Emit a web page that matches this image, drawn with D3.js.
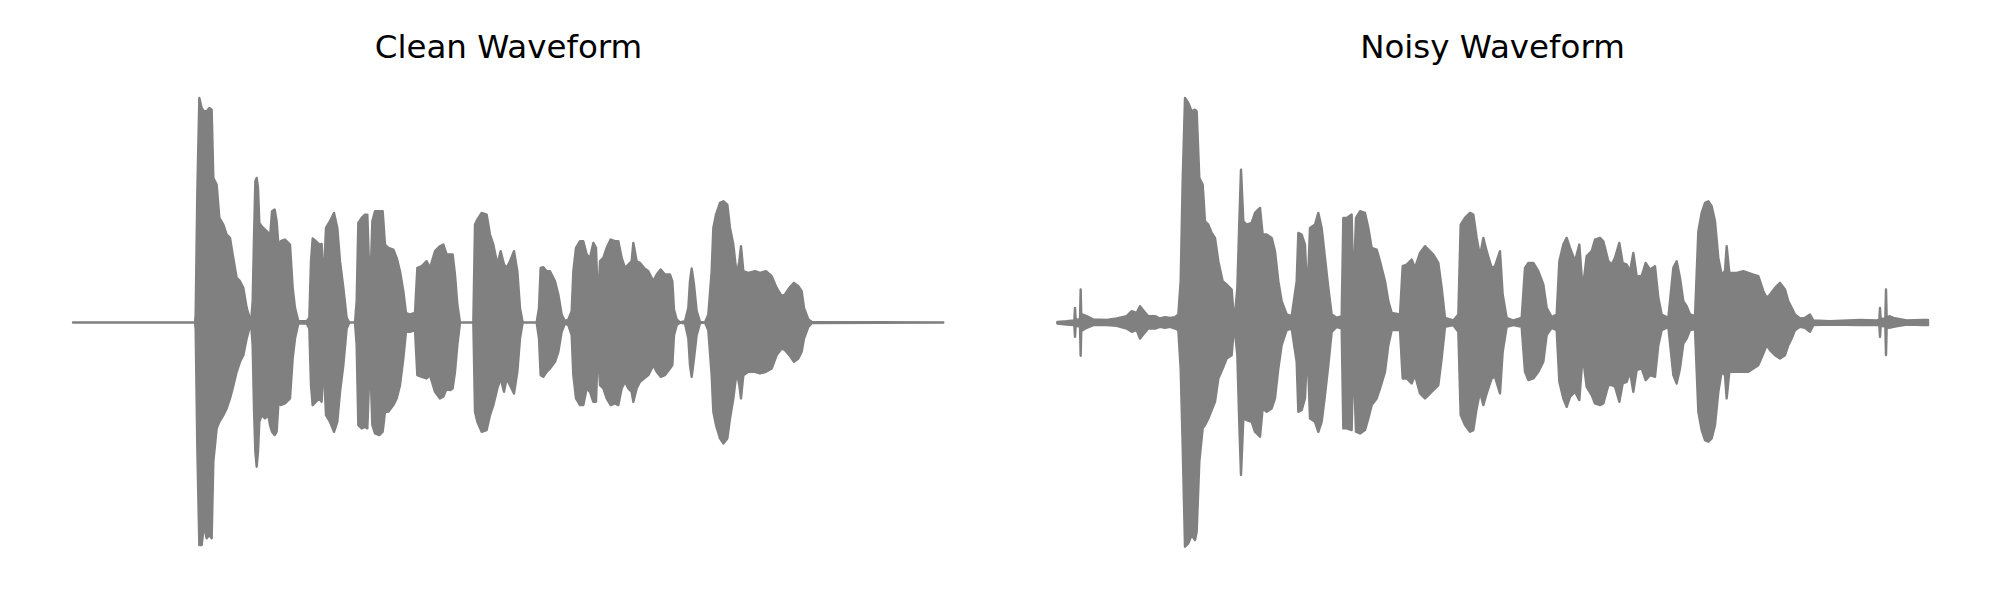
<!DOCTYPE html>
<html>
<head>
<meta charset="utf-8">
<script src="https://cdn.jsdelivr.net/npm/d3@7"></script>
<style>
  html, body { margin: 0; padding: 0; background: #fff; }
  svg { display: block; }
</style>
</head>
<body>
<svg id="chart" width="2000" height="600"></svg>
<script>
// Panel titles
const titles = ["Clean Waveform", "Noisy Waveform"];

// Envelope of each waveform: [frame, upper amplitude, lower amplitude]
// (frames of ~1.33 ms, amplitude in sample units, full scale ≈ ±680)
const cleanEnvelope = [
  [0,0,0],[366,0,0],[368,24,-18],[373,394,-378],[379,674,-668],[386,644,-668],[393,634,-608],
  [401,634,-648],[409,644,-638],[416,639,-648],[421,434,-418],[431,414,-318],[439,314,-298],
  [451,294,-278],[461,264,-258],[471,254,-228],[479,204,-198],[491,134,-148],[501,124,-118],
  [511,104,-98],[521,44,-48],[534,0,0],[539,64,-68],[543,254,-258],[547,424,-388],[551,434,-433],
  [555,404,-388],[559,299,-298],[566,289,-278],[576,279,-288],[586,269,-278],[591,254,-308],
  [597,334,-328],[605,339,-338],[611,304,-328],[619,194,-198],[623,244,-248],[636,249,-243],
  [651,234,-228],[659,104,-108],[666,44,-48],[676,4,-3],[701,4,-3],[709,14,-18],[714,184,-188],
  [719,252,-248],[729,244,-238],[739,234,-228],[746,236,-238],[751,104,-108],[759,284,-278],
  [771,304,-298],[783,329,-328],[793,284,-298],[801,184,-208],[811,104,-128],[821,14,-18],
  [829,0,0],[846,0,0],[851,64,-68],[856,299,-308],[866,314,-318],[876,324,-313],[883,324,-318],
  [891,84,-98],[898,304,-308],[906,334,-333],[919,334,-338],[929,334,-328],[936,234,-268],
  [946,224,-268],[961,219,-248],[971,194,-228],[981,154,-188],[991,94,-108],[999,29,-28],
  [1011,24,-28],[1026,29,-23],[1033,164,-158],[1046,169,-163],[1061,184,-168],[1071,164,-158],
  [1086,214,-208],[1101,229,-228],[1111,234,-223],[1121,204,-198],[1131,204,-203],[1139,204,-198],
  [1146,144,-148],[1153,54,-68],[1161,0,0],[1201,0,0],[1206,294,-268],[1213,309,-298],
  [1226,329,-328],[1241,324,-323],[1251,264,-278],[1261,234,-248],[1273,174,-198],[1283,214,-168],
  [1293,174,-208],[1301,164,-168],[1311,184,-188],[1323,214,-213],[1333,154,-148],[1341,44,-48],
  [1349,0,0],[1391,0,0],[1398,44,-48],[1403,164,-158],[1411,166,-163],[1421,154,-148],
  [1431,154,-138],[1446,124,-118],[1456,84,-88],[1466,24,-28],[1476,4,-3],[1486,9,-8],
  [1496,34,-38],[1501,154,-158],[1509,224,-228],[1521,244,-248],[1531,244,-248],[1541,204,-198],
  [1551,194,-208],[1561,239,-238],[1569,224,-238],[1575,54,-68],[1581,184,-188],[1591,194,-198],
  [1601,224,-228],[1613,249,-248],[1626,244,-243],[1636,244,-248],[1646,194,-198],[1656,164,-178],
  [1666,174,-198],[1676,184,-208],[1681,239,-238],[1691,184,-198],[1701,179,-178],[1713,164,-168],
  [1726,154,-158],[1741,124,-128],[1751,144,-148],[1763,159,-163],[1776,144,-158],[1791,144,-138],
  [1798,124,-128],[1803,39,-38],[1811,9,-8],[1821,0,0],[1836,4,-3],[1846,44,-48],[1851,124,-128],
  [1856,162,-163],[1863,114,-108],[1871,34,-38],[1881,2,-2],[1896,0,0],[1906,24,-23],
  [1916,154,-158],[1921,284,-268],[1929,324,-308],[1941,359,-348],[1951,364,-363],[1963,354,-348],
  [1971,284,-288],[1981,234,-228],[1991,144,-148],[1999,184,-188],[2004,229,-228],[2011,154,-158],
  [2026,149,-148],[2046,154,-148],[2061,149,-153],[2079,154,-148],[2096,139,-138],[2111,104,-98],
  [2126,79,-78],[2136,84,-83],[2149,104,-98],[2163,119,-118],[2176,109,-108],[2186,94,-88],
  [2193,44,-48],[2206,9,-13],[2216,2,-2],[2611,0,0]
];

const noisyEnvelope = [
  [1,2,-3],[29,4,-6],[49,6,-8],[52,6,-8],[54,44,-43],[56,8,-10],[69,10,-12],[71,99,-100],
  [73,14,-16],[77,24,-23],[89,19,-16],[109,9,-8],[149,8,-8],[179,12,-10],[209,19,-18],
  [224,34,-28],[239,29,-23],[249,49,-48],[261,34,-33],[274,19,-18],[294,19,-18],[309,12,-13],
  [324,16,-16],[339,14,-13],[354,16,-18],[364,24,-23],[371,124,-138],[377,424,-368],
  [384,674,-673],[394,659,-663],[404,634,-638],[414,639,-653],[419,634,-628],[427,434,-418],
  [437,414,-318],[444,304,-308],[454,294,-288],[464,269,-263],[474,254,-238],[484,184,-168],
  [497,124,-138],[509,114,-108],[524,99,-98],[529,34,-38],[534,24,-28],[541,104,-98],
  [547,304,-308],[552,459,-458],[559,304,-288],[569,294,-293],[584,299,-298],[594,329,-328],
  [609,344,-343],[617,264,-258],[629,264,-268],[644,254,-258],[654,214,-228],[664,124,-138],
  [674,64,-68],[689,24,-23],[704,19,-18],[719,124,-118],[724,269,-268],[734,264,-263],
  [744,234,-228],[751,74,-68],[759,284,-288],[774,294,-298],[784,329,-328],[794,284,-298],
  [804,194,-218],[814,104,-128],[824,24,-28],[839,14,-13],[854,19,-18],[859,314,-318],
  [869,314,-318],[884,324,-323],[889,84,-88],[897,314,-328],[909,334,-333],[924,329,-323],
  [934,284,-288],[944,224,-248],[959,219,-228],[969,184,-198],[984,124,-148],[994,64,-68],
  [1004,29,-23],[1029,24,-23],[1037,169,-168],[1049,174,-168],[1064,189,-183],[1074,164,-158],
  [1089,209,-213],[1104,229,-228],[1114,219,-218],[1129,204,-203],[1144,179,-188],[1154,104,-108],
  [1164,14,-13],[1189,6,-8],[1204,24,-28],[1211,294,-278],[1224,314,-308],[1239,329,-328],
  [1249,324,-323],[1259,254,-258],[1269,199,-208],[1279,254,-248],[1289,214,-213],[1304,164,-168],
  [1314,169,-163],[1329,214,-213],[1337,84,-88],[1349,14,-13],[1369,6,-8],[1394,14,-13],
  [1404,164,-148],[1414,179,-173],[1429,179,-168],[1444,154,-148],[1459,114,-118],[1469,44,-38],
  [1484,16,-16],[1499,24,-23],[1507,184,-178],[1519,234,-228],[1529,254,-253],[1539,224,-223],
  [1554,184,-208],[1567,234,-233],[1577,99,-98],[1589,199,-193],[1604,214,-218],[1614,249,-243],
  [1629,254,-248],[1639,244,-243],[1654,184,-188],[1664,174,-188],[1674,194,-193],[1687,239,-238],
  [1697,179,-183],[1709,174,-178],[1719,154,-148],[1729,209,-208],[1739,139,-143],[1754,139,-138],
  [1766,179,-173],[1779,159,-158],[1794,169,-163],[1804,74,-68],[1814,24,-23],[1834,14,-13],
  [1849,164,-158],[1859,184,-183],[1869,134,-138],[1879,64,-63],[1889,49,-48],[1899,24,-23],
  [1914,19,-20],[1924,274,-268],[1934,329,-323],[1944,359,-353],[1954,364,-358],[1964,349,-348],
  [1974,304,-308],[1984,194,-208],[1994,144,-148],[2004,154,-158],[2009,229,-228],[2017,149,-148],
  [2039,149,-148],[2059,154,-148],[2074,149,-148],[2089,144,-138],[2104,139,-128],[2119,94,-93],
  [2129,74,-68],[2139,84,-83],[2154,104,-98],[2169,119,-108],[2184,99,-98],[2194,64,-68],
  [2204,44,-48],[2214,24,-23],[2229,12,-13],[2244,14,-16],[2259,24,-28],[2269,6,-8],[2319,4,-6],
  [2409,8,-8],[2459,6,-8],[2467,8,-8],[2469,44,-43],[2471,10,-10],[2485,12,-12],[2487,99,-98],
  [2489,14,-14],[2497,19,-16],[2509,14,-13],[2549,6,-6],[2599,8,-8],[2613,8,-8]
];

const frameDomain = [0, 2613];
const ampDomain = [-680, 680];

const svg = d3.select("#chart");
const panels = [
  { title: titles[0], data: cleanEnvelope, left: 73 },
  { title: titles[1], data: noisyEnvelope, left: 1057 }
];
const panelWidth = 871;

const y = d3.scaleLinear().domain(ampDomain).range([549, 96]);

panels.forEach(p => {
  const x = d3.scaleLinear().domain(frameDomain).range([p.left, p.left + panelWidth]);
  const area = d3.area()
    .x(d => x(d[0]))
    .y0(d => y(d[2]))
    .y1(d => y(d[1]))
    .curve(d3.curveLinear);

  svg.append("path")
    .datum(p.data)
    .attr("d", area)
    .attr("fill", "#808080")
    .attr("stroke", "#808080")
    .attr("stroke-width", 2.4)
    .attr("stroke-linejoin", "round")
    .attr("stroke-linecap", "round");

  svg.append("text")
    .attr("x", p.left + panelWidth / 2)
    .attr("y", 58)
    .attr("text-anchor", "middle")
    .attr("font-family", "DejaVu Sans")
    .attr("font-size", "32.5px")
    .attr("fill", "#000")
    .text(p.title);
});
</script>
</body>
</html>
